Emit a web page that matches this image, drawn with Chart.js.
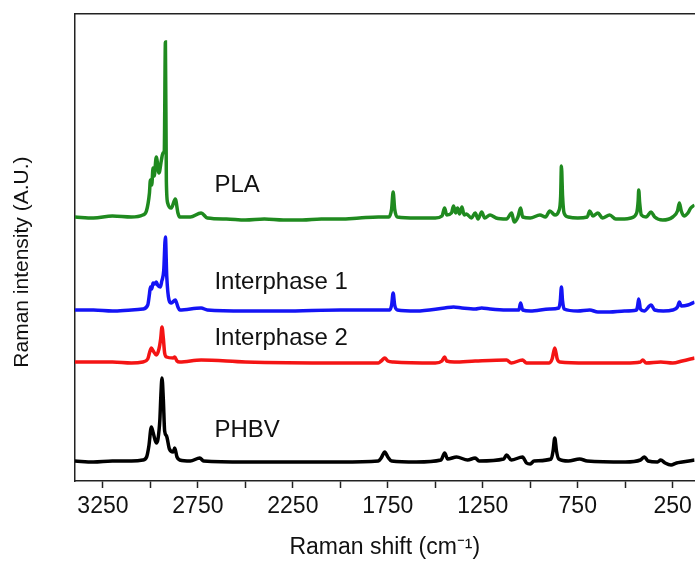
<!DOCTYPE html>
<html>
<head>
<meta charset="utf-8">
<script src="https://cdn.jsdelivr.net/npm/chart.js@4/dist/chart.umd.min.js"></script>
<style>
  html, body { margin: 0; padding: 0; background: #fff; }
  #wrap { width: 697px; height: 561px; }
</style>
</head>
<body>
<div id="wrap"><canvas id="myChart"></canvas></div>
<script>
// Raman shift (cm-1) and stacked intensity (A.U.)
const plaShift = [3397,3300,3200,3100,3040,3021,3005,3000,2993,2986,2980,2969,2955,2942,2934,2927,2921,2916,2909,2890,2869,2855,2846,2790,2733,2700,2600,2500,2400,2300,2200,2100,2000,1900,1800,1745,1730,1722,1714,1700,1600,1500,1465,1451,1440,1415,1404,1393,1383,1372,1360,1348,1336,1310,1290,1275,1256,1240,1212,1180,1125,1098,1085,1065,1051,1040,1000,949,920,897,870,850,840,836,830,822,800,750,700,687,670,644,620,582,550,504,470,440,432,429,424,415,390,364,345,303,250,225,215,205,190,170,155,135];
const plaInt   = [264,263,265,264,266,270,288,301,296,313,305,324,308,321,328,330,439,300,278,273,282,268,264,264,268,263,262,261,262,261,261,262,262,263,264,264,272,289,272,264,263,263,265,273,266,268,275,268,273,267,274,266,267,263,268,262,269,263,266,263,262,268,259,264,273,264,263,266,264,270,266,270,285,315,285,268,264,263,264,270,265,268,263,266,262,262,263,268,280,291,278,266,264,269,264,261,264,270,278,270,265,268,273,276];

const int1Shift = [3397,3300,3200,3100,3040,3014,3005,3000,2993,2986,2977,2969,2962,2948,2940,2930,2921,2914,2902,2890,2869,2855,2846,2733,2700,2500,2300,2000,1800,1740,1730,1722,1714,1700,1600,1451,1404,1360,1290,1256,1212,1125,1098,1060,1051,1040,1000,897,850,842,836,830,822,750,687,644,582,504,440,435,429,420,400,364,345,300,250,225,215,205,170,135];
const int1Int   = [171,171,170,171,172,176,187,194,192,198,197,199,196,194,200,210,244,205,181,178,181,174,171,173,171,170,170,171,171,171,176,188,176,171,170,173,174,173,172,173,172,171,171,171,178,171,170,172,173,180,194,180,172,170,171,169,169,170,171,175,182,172,170,176,171,170,171,174,179,175,176,179];

const int2Shift = [3397,3200,3100,3040,3014,3005,2995,2985,2969,2955,2946,2939,2932,2925,2915,2880,2872,2860,2846,2733,2500,2000,1800,1785,1766,1750,1720,1500,1465,1451,1440,1400,1290,1125,1100,1041,1020,900,885,871,858,845,700,500,420,408,390,313,250,200,135];
const int2Int   = [119,119,118,119,122,128,133,130,126,132,142,154,143,128,124,123,124,120,119,121,119,118,118,120,123,120,119,118,120,124,120,119,120,121,118,121,118,118,122,133,122,119,118,118,119,121,118,119,118,120,123];

const phbvShift = [3397,3300,3200,3100,3040,3020,3008,2995,2985,2969,2960,2950,2945,2939,2932,2925,2915,2900,2880,2872,2860,2846,2790,2740,2720,2500,2000,1800,1785,1766,1750,1730,1600,1470,1451,1435,1388,1330,1290,1270,1140,1125,1100,1041,1020,1000,980,890,880,871,862,850,800,740,700,500,420,399,380,330,313,290,259,230,200,135];
const phbvInt   = [20,19,20,20,21,24,35,54,48,38,42,62,85,103,82,50,45,32,29,33,24,21,20,23,20,19,19,20,23,29,24,20,19,21,28,22,24,21,23,20,22,26,21,24,18,17,20,22,30,43,30,22,20,22,20,19,21,24,20,19,21,18,16,18,19,21];

// axis ticks
const tickValues = [3250,3000,2750,2500,2250,2000,1750,1500,1250,1000,750,500,250];
const majorTicks = [3250,2750,2250,1750,1250,750,250];

// in-plot labels
const labelNames = ['PLA', 'Interphase 1', 'Interphase 2', 'PHBV'];
const labelShift = [2663, 2663, 2663, 2663];
const labelLevel = [296, 199, 143, 51];

const FONT = "'Liberation Sans', Arial, sans-serif";
const AXIS = '#222';

function toPoints(xs, ys) {
  return xs.map((x, i) => ({ x: x, y: ys[i] }));
}

const data = {
  datasets: [
    { label: 'PLA', data: toPoints(plaShift, plaInt), borderColor: '#1f8a1f' },
    { label: 'Interphase 1', data: toPoints(int1Shift, int1Int), borderColor: '#1414f5' },
    { label: 'Interphase 2', data: toPoints(int2Shift, int2Int), borderColor: '#f41414' },
    { label: 'PHBV', data: toPoints(phbvShift, phbvInt), borderColor: '#000000' }
  ]
};

// text labels placed through the chart scales
const seriesLabels = {
  id: 'seriesLabels',
  afterDatasetsDraw(chart) {
    const { ctx, scales: { x, y } } = chart;
    ctx.save();
    ctx.font = '24px ' + FONT;
    ctx.fillStyle = '#111';
    ctx.textBaseline = 'middle';
    ctx.textAlign = 'left';
    labelNames.forEach((name, i) => {
      ctx.fillText(name, x.getPixelForValue(labelShift[i]), y.getPixelForValue(labelLevel[i]));
    });
    ctx.restore();
  }
};

const options = {
  responsive: true,
  maintainAspectRatio: false,
  animation: false,
  layout: { padding: { top: 14, right: 0, bottom: 0, left: 0 } },
  plugins: { legend: { display: false }, tooltip: { enabled: false } },
  elements: {
    point: { radius: 0 },
    line: { borderWidth: 3.5, cubicInterpolationMode: 'monotone', fill: false }
  },
  scales: {
    x: {
      type: 'linear',
      position: 'bottom',
      reverse: true,
      min: 135,
      max: 3397,
      afterBuildTicks: s => { s.ticks = tickValues.map(v => ({ value: v })); },
      afterFit: s => { s.height = 80; },
      ticks: {
        color: '#111',
        font: { family: FONT, size: 23 },
        padding: 5,
        maxRotation: 0,
        autoSkip: false,
        callback: v => majorTicks.includes(v) ? String(v) : ''
      },
      grid: { drawOnChartArea: false, drawTicks: true, tickLength: 7, color: AXIS, tickWidth: 1.5 },
      border: { display: true, color: AXIS, width: 1.5 },
      title: {
        display: true,
        text: 'Raman shift (cm⁻¹)',
        color: '#111',
        font: { family: FONT, size: 23 },
        padding: { top: 0, bottom: 0 }
      }
    },
    xTop: {
      type: 'linear',
      position: 'top',
      reverse: true,
      min: 135,
      max: 3397,
      ticks: { display: false },
      grid: { drawOnChartArea: false, drawTicks: false },
      border: { display: true, color: AXIS, width: 1.5 },
      afterFit: s => { s.height = 0; }
    },
    y: {
      min: 0,
      max: 467,
      ticks: { display: false },
      grid: { drawOnChartArea: false, drawTicks: false },
      border: { display: true, color: AXIS, width: 1.5 },
      afterFit: s => { s.width = 75; },
      title: {
        display: true,
        // trailing spaces nudge the rotated title down a little, as in the figure
        text: 'Raman intensity (A.U.)     ',
        color: '#111',
        font: { family: FONT, size: 21 },
        padding: { top: 10, bottom: 0 }
      }
    }
  }
};

const canvas = document.getElementById('myChart');
const ctx = canvas.getContext('2d');

const ramanChart = new Chart(ctx, {
  type: 'line',
  data: data,
  options: options,
  plugins: [seriesLabels]
});
</script>
</body>
</html>
